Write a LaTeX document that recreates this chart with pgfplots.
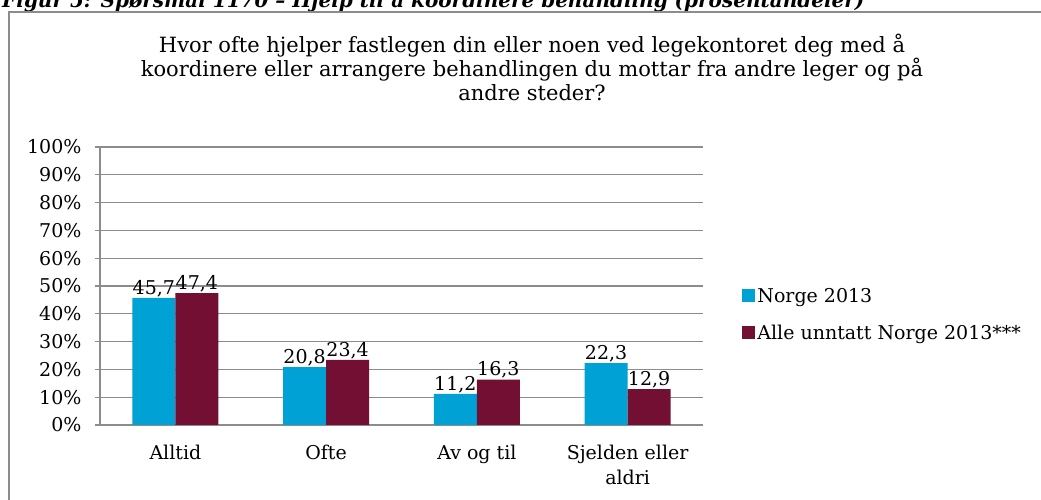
\documentclass[border=0pt]{standalone}
\usepackage{pgfplots}
\pgfplotsset{compat=1.18}
\usepackage{fontspec}
\setmainfont{DejaVu Serif}
\definecolor{cblue}{RGB}{0,162,214}
\definecolor{cred}{RGB}{114,15,50}
\definecolor{gridc}{RGB}{140,140,140}
\begin{document}
\begin{tikzpicture}[x=1pt,y=1pt]
\useasboundingbox (0,0) rectangle (1041,500);
\clip (0,0) rectangle (1041,500);
% caption (cut off at top)
\node[anchor=base west, inner sep=0pt, font=\fontsize{20}{22}\selectfont\bfseries\itshape] at (2,492) {Figur 5: Spørsmål 1170 – Hjelp til å koordinere behandling (prosentandeler)};
% frame
\draw[gridc, line width=1.3pt] (9,-10) -- (9,488) -- (1060,488);
% chart title
\node[align=center, inner sep=0pt, font=\fontsize{21}{24}\selectfont] at (532,433) {Hvor ofte hjelper fastlegen din eller noen ved legekontoret deg med å\\koordinere eller arrangere behandlingen du mottar fra andre leger og på\\andre steder?};
\begin{axis}[
  at={(100pt,75pt)}, anchor=south west,
  scale only axis, width=603pt, height=278pt,
  ymin=0, ymax=100, xmin=-0.5, xmax=3.5,
  ybar=0pt, bar width=43pt,
  ytick={0,10,...,100},
  yticklabels={0\%,10\%,20\%,30\%,40\%,50\%,60\%,70\%,80\%,90\%,100\%},
  yticklabel style={font=\fontsize{19}{22}\selectfont, xshift=-10pt},
  xtick={0,1,2,3},
  xticklabels={Alltid,Ofte,Av og til,{Sjelden eller\\aldri}},
  xticklabel style={font=\fontsize{19}{25}\selectfont, align=center, yshift=-12pt},
  x tick style={draw=none},
  extra x ticks={-0.5,0.5,1.5,2.5,3.5},
  extra x tick labels={},
  extra x tick style={grid=none, tick style={draw=gridc, line width=1.3pt}, major tick length=7pt, tick align=outside},
  y tick style={draw=gridc, line width=1.3pt},
  major tick length=5pt, tick align=outside,
  ymajorgrids, major grid style={draw=gridc, line width=1.3pt},
  axis x line*=bottom, axis y line*=left,
  axis line style={draw=gridc, line width=1.3pt, -},
  nodes near coords,
  every node near coord/.append style={font=\fontsize{19}{22}\selectfont, text=black, inner sep=1pt, anchor=south},
  /pgf/number format/.cd, use comma, fixed, fixed zerofill, precision=1, assume math mode=true,
  /pgfplots/.cd,
  legend style={at={(1.065,0.50)}, anchor=north west, draw=none, fill=none,
    font=\fontsize{19}{22}\selectfont, row sep=17pt, inner sep=0pt,
    /tikz/every even column/.append style={column sep=0pt}},
  legend cell align=left,
  legend image code/.code={\fill[#1, draw=none] (0pt,-6.5pt) rectangle (13pt,6.5pt);},
]
\addplot[fill=cblue, draw=none] coordinates {(0,45.7) (1,20.8) (2,11.2) (3,22.3)};
\addplot[fill=cred, draw=none] coordinates {(0,47.4) (1,23.4) (2,16.3) (3,12.9)};
\legend{Norge 2013, Alle unntatt Norge 2013***}
\end{axis}
\end{tikzpicture}
\end{document}
